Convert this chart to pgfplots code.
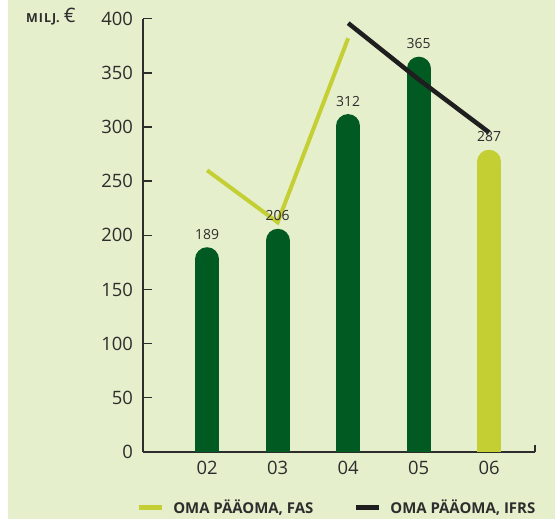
\documentclass[border=0pt]{standalone}
\usepackage{fontspec}
\setmainfont{Open Sans}
\usepackage{pgfplots}
\pgfplotsset{compat=1.18}
\definecolor{bg}{RGB}{229,239,203}
\definecolor{darkbar}{RGB}{0,90,34}
\definecolor{limebar}{RGB}{195,207,51}
\definecolor{axisgray}{RGB}{45,45,45}
\definecolor{ifrs}{RGB}{30,30,30}

\begin{document}
\begin{tikzpicture}[x=1bp,y=1bp]
\path[use as bounding box] (0,0) rectangle (555,520);
\fill[bg] (8,1) rectangle (555,520);
\node[anchor=base west, inner sep=0pt, text=axisgray] at (26,497)
  {{\fontsize{12.5}{14}\selectfont\bfseries M\kern1pt I\kern1pt L\kern1pt J.}\hspace{4bp}{\fontsize{20}{22}\selectfont €}};
\begin{axis}[
  name=ax,
  at={(203,63)}, anchor=south west, scale only axis,
  width=392bp, height=433bp,
  xmin=1.092, xmax=6.652, ymin=0, ymax=400,
  axis x line=bottom, axis y line=left,
  axis line style={-, draw=axisgray, line width=1.4bp},
  xtick={2,3,4,5,6}, xticklabels={02,03,04,05,06},
  ytick={0,50,...,400},
  x tick style={draw=none},
  y tick style={draw=axisgray, line width=1.4bp},
  tick align=inside, major tick length=9bp,
  /pgf/number format/assume math mode=true,
  tick label style={font=\fontsize{18.5}{21}\selectfont, text=axisgray, inner sep=0pt},
  yticklabel style={xshift=-10bp},
  xticklabel style={yshift=-9bp},
  legend style={draw=none, fill=none, at={(-0.018,-0.1293)}, anchor=west,
    inner sep=0pt, font=\fontsize{15}{17}\selectfont\bfseries, text=axisgray,
    column sep=9bp, /tikz/every even column/.append style={column sep=40bp},
    nodes={inner sep=0pt}},
  legend columns=2,
  legend cell align=left,
  legend image code/.code={\draw[#1, line width=5bp, line cap=butt] (0bp,0bp) -- (23bp,0bp);},
  bar/.style={forget plot, ycomb, draw=#1, line width=24bp, line cap=round,
    shorten >=12bp, mark=none, point meta=explicit symbolic, nodes near coords,
    nodes near coords style={font=\fontsize{14}{16}\selectfont, text=axisgray,
      anchor=base, yshift=8bp, inner sep=0pt}},
]
% bar heights as drawn, labels as printed
\addplot[bar=darkbar] coordinates {(2,189) [189]};
\addplot[bar=darkbar] coordinates {(3,206) [206]};
\addplot[bar=darkbar] coordinates {(4,312) [312]};
\addplot[bar=darkbar] coordinates {(5,365) [365]};
\addplot[bar=limebar] coordinates {(6,279) [287]};

\addplot[limebar, line width=4bp, mark=none] coordinates {(2,260) (3,212) (4,382)};
\addlegendentry{OMA PÄÄOMA, FAS}
\addplot[ifrs, line width=4.5bp, mark=none] coordinates {(4,396) (5,344) (6,295)};
\addlegendentry{OMA PÄÄOMA, IFRS}
\end{axis}
\draw[axisgray, line width=1.4bp] (ax.south east) -- ++(0,7);
\end{tikzpicture}
\end{document}
